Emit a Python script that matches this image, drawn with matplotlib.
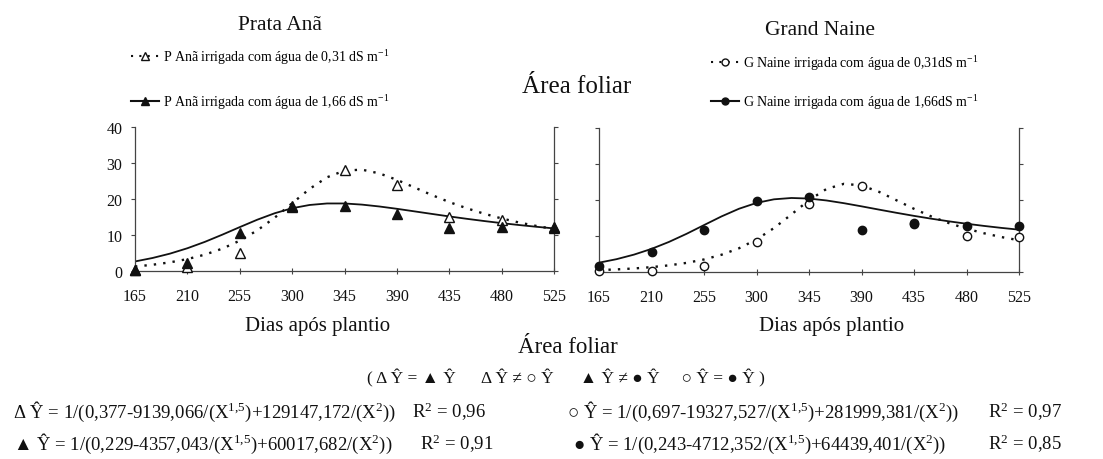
import matplotlib
matplotlib.use('Agg')
import matplotlib.pyplot as plt
from matplotlib.lines import Line2D

plt.rcParams['font.family'] = ['Liberation Serif', 'DejaVu Sans']
plt.rcParams['mathtext.fontset'] = 'custom'
plt.rcParams['mathtext.rm'] = 'Liberation Serif'
plt.rcParams['mathtext.it'] = 'Liberation Serif:italic'
plt.rcParams['mathtext.bf'] = 'Liberation Serif:bold'

# ---------------- data ----------------
days = [165, 210, 255, 300, 345, 390, 435, 480, 525]
day_labels = ['165', '210', '255', '300', '345', '390', '435', '480', '525']
y_ticks = [0, 10, 20, 30, 40]

# observed points (Área foliar)
pa_031_obs = [0.3, 1.2, 5.1, 18.0, 28.1, 23.9, 14.9, 14.2, 12.0]
pa_166_obs = [0.3, 2.3, 10.5, 17.9, 18.1, 15.7, 12.0, 12.3, 12.3]
gn_031_obs = [0.2, 0.4, 1.8, 8.3, 19.0, 24.0, 13.5, 10.1, 9.7]
gn_166_obs = [1.6, 5.6, 11.7, 19.6, 20.7, 11.8, 13.4, 12.7, 12.7]

# fitted curves, every 15 days
fit_days = [165, 180, 195, 210, 225, 240, 255, 270, 285, 300, 315, 330, 345,
            360, 375, 390, 405, 420, 435, 450, 465, 480, 495, 510, 525]
pa_031_fit = [1.24, 1.73, 2.40, 3.31, 4.54, 6.21, 8.42, 11.27, 14.81, 18.81, 22.80, 26.03, 27.89,
              28.15, 27.11, 25.32, 23.22, 21.11, 19.15, 17.43, 15.91, 14.60, 13.47, 12.50, 11.65]
pa_166_fit = [2.65, 3.61, 4.82, 6.32, 8.09, 10.09, 12.19, 14.24, 16.04, 17.44, 18.34, 18.76, 18.76,
              18.44, 17.92, 17.28, 16.57, 15.86, 15.16, 14.50, 13.88, 13.30, 12.77, 12.28, 11.83]
gn_031_fit = [0.52, 0.72, 0.98, 1.35, 1.85, 2.53, 3.48, 4.79, 6.59, 9.03, 12.21, 16.01, 19.95,
              23.07, 24.50, 24.04, 22.27, 19.92, 17.55, 15.41, 13.57, 12.03, 10.76, 9.70, 8.82]
gn_166_fit = [2.59, 3.56, 4.83, 6.42, 8.36, 10.60, 13.03, 15.44, 17.57, 19.19, 20.19, 20.56, 20.40,
              19.87, 19.11, 18.24, 17.33, 16.44, 15.59, 14.80, 14.07, 13.41, 12.80, 12.25, 11.76]

legend_pa = ['P Anã irrigada com água de 0,31 dS m$^{-1}$',
             'P Anã irrigada com água de 1,66 dS m$^{-1}$']
legend_gn = ['G Naine irrigada com água de 0,31dS m$^{-1}$',
             'G Naine irrigada com água de 1,66dS m$^{-1}$']

eq_left = ['Δ Ŷ = 1/(0,377-9139,066/(X$^{1{,}5}$)+129147,172/(X$^{2}$))',
           '▲ Ŷ = 1/(0,229-4357,043/(X$^{1{,}5}$)+60017,682/(X$^{2}$))']
r2_left = ['R$^{2}$ = 0,96', 'R$^{2}$ = 0,91']
eq_right = ['○ Ŷ = 1/(0,697-19327,527/(X$^{1{,}5}$)+281999,381/(X$^{2}$))',
            '● Ŷ = 1/(0,243-4712,352/(X$^{1{,}5}$)+64439,401/(X$^{2}$))']
r2_right = ['R$^{2}$ = 0,97', 'R$^{2}$ = 0,85']
comparison = '( Δ Ŷ = ▲ Ŷ      Δ Ŷ ≠ ○ Ŷ      ▲ Ŷ ≠ ● Ŷ     ○ Ŷ = ● Ŷ )'

# ---------------- figure ----------------
W, H = 1103, 460
fig = plt.figure(figsize=(W / 100, H / 100), dpi=100)
fig.patch.set_facecolor('white')
K = '#111111'


def fx(px):
    return px / W


def fy(py):
    return 1 - py / H


DOT = (0, (1, 3))


def style_axes(ax, show_ylabels):
    ax.set_xlim(165, 525)
    ax.set_ylim(0, 40)
    ax.set_xticks(days)
    ax.set_xticklabels(day_labels)
    ax.set_yticks(y_ticks)
    if not show_ylabels:
        ax.set_yticklabels([])
    ax.spines['top'].set_visible(False)
    for s in ['left', 'right', 'bottom']:
        ax.spines[s].set_color('#444444')
        ax.spines[s].set_linewidth(0.9)
    ax.tick_params(axis='x', direction='inout', length=4, width=0.8, pad=10,
                   labelsize=11.5, colors='#444444', labelcolor=K)
    ax.tick_params(axis='y', direction='out', length=3, width=0.8, pad=6,
                   labelsize=11.5, colors='#444444', labelcolor=K,
                   right=True, labelright=False)


# left panel: Prata Anã
ax1 = fig.add_axes([fx(135), fy(272), 419 / W, (272 - 128) / H])
ax1.plot(fit_days, pa_031_fit, linestyle=DOT, color=K, lw=1.7)
ax1.plot(fit_days, pa_166_fit, linestyle='-', color=K, lw=1.3)
ax1.plot(days, pa_031_obs, linestyle='none', marker='^', ms=6.5, mfc='white',
         mec=K, mew=1.0, clip_on=False, zorder=5)
ax1.plot(days, pa_166_obs, linestyle='none', marker='^', ms=6.5, mfc=K,
         mec=K, clip_on=False, zorder=6)
style_axes(ax1, True)

# right panel: Grand Naine
ax2 = fig.add_axes([fx(599), fy(273), 420 / W, (273 - 129) / H])
ax2.plot(fit_days, gn_031_fit, linestyle=DOT, color=K, lw=1.7)
ax2.plot(fit_days, gn_166_fit, linestyle='-', color=K, lw=1.3)
ax2.plot(days, gn_031_obs, linestyle='none', marker='o', ms=6, mfc='white',
         mec=K, mew=1.0, clip_on=False, zorder=5)
ax2.plot(days, gn_166_obs, linestyle='none', marker='o', ms=6, mfc=K,
         mec=K, clip_on=False, zorder=6)
style_axes(ax2, False)

# legends
h_pa = [Line2D([], [], linestyle=DOT, color=K, lw=1.5, marker='^', ms=5.5,
               mfc='white', mec=K),
        Line2D([], [], linestyle='-', color=K, lw=1.5, marker='^', ms=5.5,
               mfc=K, mec=K)]
h_gn = [Line2D([], [], linestyle=DOT, color=K, lw=1.5, marker='o', ms=5,
               mfc='white', mec=K),
        Line2D([], [], linestyle='-', color=K, lw=1.5, marker='o', ms=5,
               mfc=K, mec=K)]
fig.legend(h_pa, legend_pa, loc='center left', bbox_to_anchor=(fx(131), fy(80)),
           frameon=False, fontsize=10, handlelength=2.0, handletextpad=0.3,
           labelspacing=1.9, borderpad=0, borderaxespad=0)
fig.legend(h_gn, legend_gn, loc='center left', bbox_to_anchor=(fx(711), fy(83)),
           frameon=False, fontsize=10, handlelength=2.0, handletextpad=0.3,
           labelspacing=1.5, borderpad=0, borderaxespad=0)

# titles and labels
fig.text(fx(280), fy(26), 'Prata Anã', ha='center', va='center', fontsize=15.5, color=K)
fig.text(fx(820), fy(31), 'Grand Naine', ha='center', va='center', fontsize=15.5, color=K)
fig.text(fx(577), fy(87), 'Área foliar', ha='center', va='center', fontsize=18, color=K)
fig.text(fx(318), fy(326), 'Dias após plantio', ha='center', va='center', fontsize=15, color=K)
fig.text(fx(832), fy(326), 'Dias após plantio', ha='center', va='center', fontsize=15, color=K)
fig.text(fx(568), fy(348), 'Área foliar', ha='center', va='center', fontsize=16.5, color=K)
fig.text(fx(566), fy(378), comparison, ha='center', va='center', fontsize=12.5, color=K)

# equations
eq_y = [412, 444]
r2_left_x = [412, 420]
eq_right_x = [567, 573]
for i in range(2):
    fig.text(fx(13), fy(eq_y[i]), eq_left[i], ha='left', va='center', fontsize=13.5, color=K)
    fig.text(fx(r2_left_x[i]), fy(eq_y[i]), r2_left[i], ha='left', va='center',
             fontsize=13.5, color=K)
    fig.text(fx(eq_right_x[i]), fy(eq_y[i]), eq_right[i], ha='left', va='center',
             fontsize=13.5, color=K)
    fig.text(fx(988), fy(eq_y[i]), r2_right[i], ha='left', va='center',
             fontsize=13.5, color=K)

fig.savefig('out.png', dpi=100, facecolor='white')
